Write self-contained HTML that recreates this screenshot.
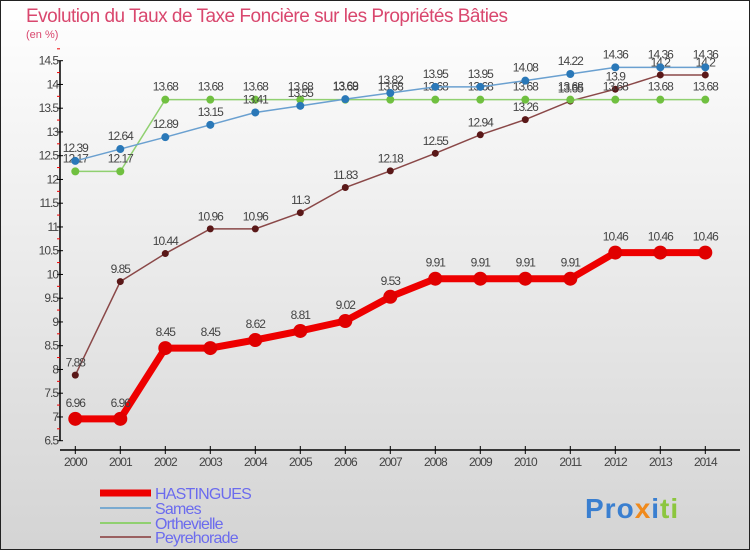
<!DOCTYPE html>
<html><head><meta charset="utf-8"><style>
body{margin:0}
svg{display:block;font-family:"Liberation Sans",sans-serif}
</style></head><body>
<svg id="c" width="750" height="550" viewBox="0 0 750 550">
<defs><linearGradient id="bg" x1="0" y1="0" x2="0" y2="1"><stop offset="0" stop-color="#ffffff"/><stop offset="1" stop-color="#d4d4d4"/></linearGradient></defs>
<rect x="0.5" y="0.5" width="749" height="549" fill="url(#bg)" stroke="#222"/>
<text x="26" y="22" font-size="19" fill="#d9476e" letter-spacing="-0.5">Evolution du Taux de Taxe Foncière sur les Propriétés Bâties</text>
<text x="26" y="38" font-size="11" fill="#d9476e">(en %)</text>
<g id="axes"></g><g id="series"></g>
<g>
<line x1="100" y1="493" x2="151" y2="493" stroke="#e00" stroke-width="7"/>
<text x="155" y="499" font-size="16" fill="#6b6bee" letter-spacing="-0.8">HASTINGUES</text>
<line x1="100" y1="508" x2="151" y2="508" stroke="#7aaad0" stroke-width="2"/>
<text x="155" y="514" font-size="16" fill="#6b6bee" letter-spacing="-0.8">Sames</text>
<line x1="100" y1="523" x2="151" y2="523" stroke="#90d070" stroke-width="2"/>
<text x="155" y="529" font-size="16" fill="#6b6bee" letter-spacing="-0.8">Orthevielle</text>
<line x1="100" y1="537" x2="151" y2="537" stroke="#9a6060" stroke-width="2"/>
<text x="155" y="543" font-size="16" fill="#6b6bee" letter-spacing="-0.8">Peyrehorade</text>
</g>
<text x="585" y="518" font-size="28" font-weight="bold" letter-spacing="1"><tspan fill="#3a7fd0">Pro</tspan><tspan fill="#f08a1c">x</tspan><tspan fill="#3a7fd0">i</tspan><tspan fill="#8cc63e">ti</tspan></text>
</svg>
<script>
const years=[2000,2001,2002,2003,2004,2005,2006,2007,2008,2009,2010,2011,2012,2013,2014];
const yTicks=[6.5,7,7.5,8,8.5,9,9.5,10,10.5,11,11.5,12,12.5,13,13.5,14,14.5];
const hastingues=[6.96,6.96,8.45,8.45,8.62,8.81,9.02,9.53,9.91,9.91,9.91,9.91,10.46,10.46,10.46];
const sames=[12.39,12.64,12.89,13.15,13.41,13.55,13.69,13.82,13.95,13.95,14.08,14.22,14.36,14.36,14.36];
const orthevielle=[12.17,12.17,13.68,13.68,13.68,13.68,13.68,13.68,13.68,13.68,13.68,13.68,13.68,13.68,13.68];
const peyrehorade=[7.88,9.85,10.44,10.96,10.96,11.3,11.83,12.18,12.55,12.94,13.26,13.65,13.9,14.2,14.2];
const NS="http://www.w3.org/2000/svg";
const xS=i=>75.3+i*45;
const yS=v=>440.7-(v-6.5)*47.5;
function mk(t,a,p){const e=document.createElementNS(NS,t);for(const k in a)e.setAttribute(k,a[k]);p.appendChild(e);return e;}
const ax=document.getElementById('axes');
const yl=mk('line',{x1:60,y1:yS(14.5),x2:60,y2:yS(6.5),stroke:'#000','stroke-width':1.5},ax);


yTicks.forEach(v=>{
 const t=mk('line',{x1:57,y1:yS(v),x2:63,y2:yS(v),stroke:'#000'},ax);
 
 
 const r=mk('line',{x1:57,y1:yS(v+0.25),x2:60,y2:yS(v+0.25),stroke:'#e00'},ax);
 
 
 const l=mk('text',{x:58,y:yS(v)+4,'font-size':12,fill:'#444','text-anchor':'end','letter-spacing':'-1'},ax);
 l.textContent=String(v);
 
 
});
const xl=mk('line',{x1:60,y1:450,x2:740,y2:450,stroke:'#000','stroke-width':1.5},ax);


years.forEach((y,i)=>{
 const t=mk('line',{x1:xS(i),y1:446,x2:xS(i),y2:454,stroke:'#000'},ax);
 
 
 const l=mk('text',{x:xS(i),y:466,'font-size':12,fill:'#444','text-anchor':'middle','letter-spacing':'-1'},ax);
 l.textContent=String(y);
 
 
});
const sg=document.getElementById('series');
function draw(name,vals,color,w,r,dot){
 const g=mk('g',{},sg);
 
 
 const p=mk('polyline',{points:vals.map((v,i)=>xS(i)+','+yS(v)).join(' '),fill:'none',stroke:color,'stroke-width':w},g);
 
 
 vals.forEach((v,i)=>{
  const c=mk('circle',{cx:xS(i),cy:yS(v),r:r,fill:dot},g);
  
  
  const t=mk('text',{x:xS(i),y:yS(v)-(r+5),'font-size':12,fill:'#444','text-anchor':'middle','letter-spacing':'-1'},g);
  t.textContent=String(v);
  
  
 });
}
draw('peyrehorade',peyrehorade,'#8a4848',1.5,3.5,'#5a1818');
draw('orthevielle',orthevielle,'#90d070',1.5,4,'#70c040');
draw('sames',sames,'#6aa0d0',1.5,4,'#2a78b8');
draw('hastingues',hastingues,'#ee0000',7,7,'#e00000');
</script>
</body></html>
